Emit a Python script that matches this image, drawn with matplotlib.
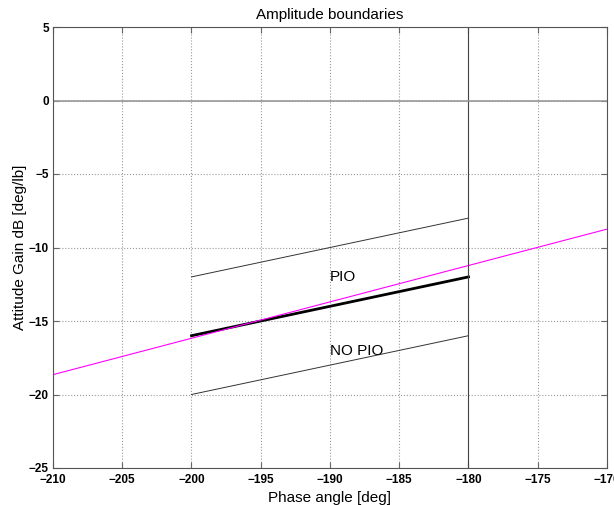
import numpy as np
import matplotlib
matplotlib.use("Agg")
import matplotlib.pyplot as plt

# boundary lines (phase deg, gain dB)
phase_bnd = [-200, -180]
upper_bnd = [-12, -8]
mid_bnd = [-16, -12]
lower_bnd = [-20, -16]

# magenta line across whole range
phase_mag = [-210, -170]
gain_mag = [-18.65, -8.75]

xticks = [-210, -205, -200, -195, -190, -185, -180, -175, -170]
yticks = [-25, -20, -15, -10, -5, 0, 5]

plt.rcParams['font.family'] = ['Liberation Sans', 'DejaVu Sans']

fig = plt.figure(figsize=(6.14, 5.05), dpi=100)
ax = fig.add_axes([53/614, 1 - 468/505, (607-53)/614, (468-27)/505])

ax.plot(phase_bnd, upper_bnd, color='#333333', lw=0.7)
ax.plot(phase_bnd, mid_bnd, color='black', lw=2)
ax.plot(phase_bnd, lower_bnd, color='#333333', lw=0.7)
ax.plot(phase_mag, gain_mag, color='magenta', lw=0.8)
ax.axvline(-180, color='#444444', lw=0.8)
ax.axhline(0, color='#999999', lw=1.2)

ax.text(-190, -12, 'PIO', fontsize=11, va='center', ha='left')
ax.text(-190, -17.05, 'NO PIO', fontsize=11, va='center', ha='left')

ax.set_xlim(-210, -170)
ax.set_ylim(-25, 5)
ax.set_xticks(xticks)
ax.set_yticks(yticks)
ax.set_xticklabels([str(t).replace('-', '\u2212') for t in xticks], fontsize=8.5, fontweight='bold')
ax.set_yticklabels([str(t).replace('-', '\u2212') for t in yticks], fontsize=8.5, fontweight='bold')
ax.tick_params(direction='in', top=True, right=True, length=4, color='#666666')
ax.tick_params(axis='x', pad=4)
ax.tick_params(axis='y', pad=3)
ax.grid(True, linestyle=':', color='#999999', lw=0.8)
for s in ax.spines.values():
    s.set_color('#555555')
    s.set_linewidth(0.8)

ax.set_title('Amplitude boundaries', fontsize=11, pad=6)
ax.set_xlabel('Phase angle [deg]', fontsize=11, labelpad=4)
ax.set_ylabel('Attitude Gain dB [deg/lb]', fontsize=11, labelpad=1)

fig.savefig('out.png', dpi=100)
